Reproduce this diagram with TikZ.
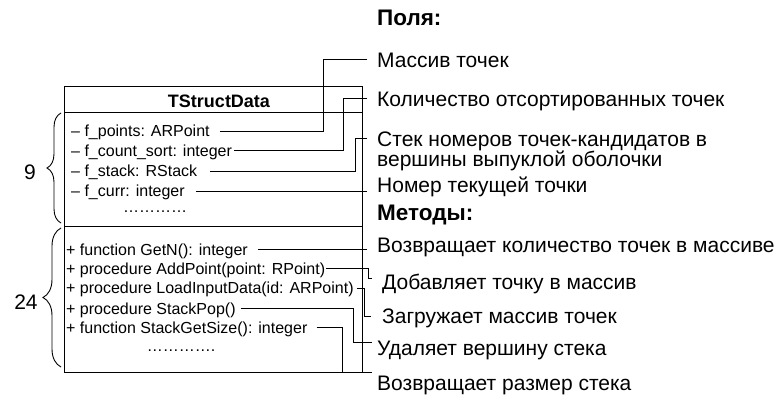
\documentclass[tikz,border=0pt]{standalone}
\usepackage{fontspec}
\setmainfont{Liberation Sans}
\usetikzlibrary{decorations.pathreplacing}
\begin{document}
\begin{tikzpicture}[x=1pt,y=-1pt,
  row/.style={anchor=base west,inner sep=0pt,font=\fontsize{16}{19}\selectfont},
  lbl/.style={anchor=base west,inner sep=0pt,font=\fontsize{21}{24}\selectfont},
  head/.style={anchor=base west,inner sep=0pt,font=\fontsize{22.5}{26}\selectfont\bfseries},
  conn/.style={draw,line width=0.9pt},
  frame/.style={draw,line width=1pt},
  brc/.style={draw,line width=0.9pt,decorate,decoration={brace,amplitude=#1}}]
\useasboundingbox (0,0) rectangle (776,395);
% class box
\draw[frame] (64,87) rectangle (362,372);
\draw[frame] (64,113) -- (362,113);
\draw[frame] (64,227) -- (362,227);
\node[anchor=base,inner sep=0pt,font=\fontsize{18}{21}\selectfont\bfseries] (title) at (219,107.5) {TStructData};
% fields
\node[row] (f1) at (71,137) {\textendash\ f\_points: ARPoint};
\node[row] (f2) at (71,156.5) {\textendash\ f\_count\_sort: integer};
\node[row] (f3) at (71,177) {\textendash\ f\_stack: RStack};
\node[row] (f4) at (71,197) {\textendash\ f\_curr: integer};
\node[row,anchor=base] (fd) at (155,213) {…………};
% methods
\node[row] (m1) at (66,255.5) {+ function GetN(): integer};
\node[row] (m2) at (66,274.5) {+ procedure AddPoint(point: RPoint)};
\node[row] (m3) at (66,294) {+ procedure LoadInputData(id: ARPoint)};
\node[row] (m4) at (66,314) {+ procedure StackPop()};
\node[row] (m5) at (66,333.5) {+ function StackGetSize(): integer};
\node[row,anchor=base] (md) at (181,351) {………….};
% braces
\draw[brc=14pt] (61,223) -- (61,113);
\draw[brc=18pt] (61,367) -- (61,228);
\node[font=\fontsize{21}{24}\selectfont,inner sep=0pt] (n9) at (30,172) {9};
\node[font=\fontsize{21}{24}\selectfont,inner sep=0pt] (n24) at (26,302) {24};
% labels
\node[head] (hf) at (377,26) {Поля:};
\node[lbl] (l1) at (377,68) {Массив точек};
\node[lbl] (l2) at (377,107) {Количество отсортированных точек};
\node[lbl] (l3) at (377,147) {Стек номеров точек-кандидатов в};
\node[lbl] (l3b) at (377,167) {вершины выпуклой оболочки};
\node[lbl] (l4) at (377,193) {Номер текущей точки};
\node[head] (hm) at (377,221) {Методы:};
\node[lbl] (k1) at (377,253) {Возвращает количество точек в массиве};
\node[lbl] (k2) at (382,290) {Добавляет точку в массив};
\node[lbl] (k3) at (382,323) {Загружает массив точек};
\node[lbl] (k4) at (377,355) {Удаляет вершину стека};
\node[lbl] (k5) at (377,390) {Возвращает размер стека};
% connector ends
\coordinate (e1) at (367,59);
\coordinate (e2) at (367,98);
\coordinate (e3) at (367,138);
\coordinate (e4) at (367,191);
\coordinate (g1) at (367,249.5);
\coordinate (g2) at (372,278);
\coordinate (g3) at (371,316);
\coordinate (g4) at (372,342);
\coordinate (g5) at (372,372);
% connectors
\draw[conn] ([shift={(10,-6)}]f1.base east) -| (323,59) -- (e1);
\draw[conn] ([shift={(2,-6)}]f2.base east) -| (343,98) -- (e2);
\draw[conn] ([shift={(13,-6)}]f3.base east) -| (355,138) -- (e3);
\draw[conn] ([shift={(11,-6)}]f4.base east) -- (e4 |- 0,191);
\draw[conn] ([shift={(10,-6)}]m1.base east) -- (g1);
\draw[conn] ([shift={(1,-6)}]m2.base east) -| (368,278) -- (g2);
\draw[conn] ([shift={(3,-6)}]m3.base east) -| (364,316) -- (g3);
\draw[conn] ([shift={(5,-6)}]m4.base east) -| (353,342) -- (g4);
\draw[conn] ([shift={(9,-6)}]m5.base east) -| (342,372) -- (g5);
\end{tikzpicture}
\end{document}
